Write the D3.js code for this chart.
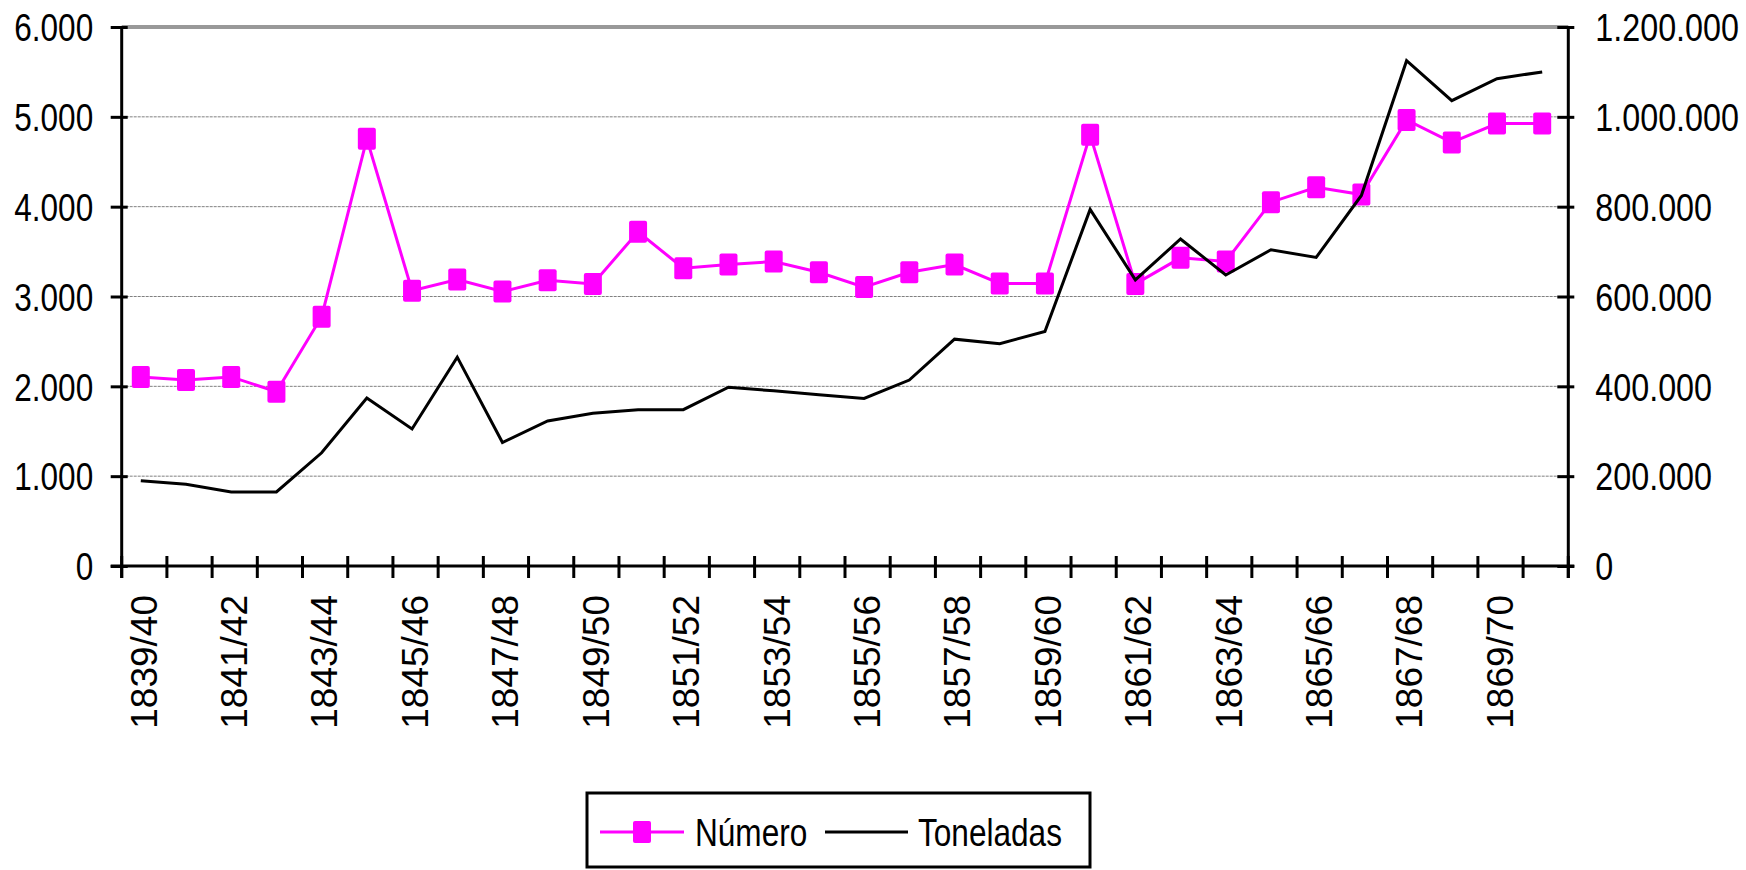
<!DOCTYPE html>
<html>
<head>
<meta charset="utf-8">
<script src="https://cdn.jsdelivr.net/npm/d3@7"></script>
<style>
  body { margin: 0; background: #fff; }
  text { font-family: "Liberation Sans", Arial, sans-serif; fill: #000; }
</style>
</head>
<body>
<svg id="chart" width="1746" height="870"></svg>
<script>
// Ships entering port per season: number of vessels and total tonnage
const categories = ["1839/40","1840/41","1841/42","1842/43","1843/44","1844/45","1845/46","1846/47",
  "1847/48","1848/49","1849/50","1850/51","1851/52","1852/53","1853/54","1854/55",
  "1855/56","1856/57","1857/58","1858/59","1859/60","1860/61","1861/62","1862/63",
  "1863/64","1864/65","1865/66","1866/67","1867/68","1868/69","1869/70","1870/71"];
const numero = [2105, 2070, 2105, 1940, 2775, 4755, 3065, 3190, 3055, 3180, 3140, 3720, 3315, 3355, 3390, 3270,
  3105, 3270, 3355, 3145, 3145, 4800, 3140, 3430, 3390, 4050, 4215, 4135, 4965, 4715, 4925, 4925];
const toneladas = [190000, 182000, 165000, 165000, 252000, 374000, 305000, 465000, 275000, 323000, 340000, 348000,
  348000, 398000, 390000, 381000, 373000, 414000, 505000, 495000, 522000, 794000, 637000, 728000,
  648000, 704000, 687000, 825000, 1125000, 1036000, 1085000, 1100000];
const leftTicks = [0, 1000, 2000, 3000, 4000, 5000, 6000];
const rightTicks = [0, 200000, 400000, 600000, 800000, 1000000, 1200000];
const seriesNames = ["Número", "Toneladas"];

const MAGENTA = "#ff00ff";
const svg = d3.select("#chart");
const plot = { left: 121.7, right: 1568.3, top: 27, bottom: 566 };

const locale = d3.formatLocale({ decimal: ",", thousands: ".", grouping: [3], currency: ["", ""] });
const fmt = locale.format(",d");

const x = d3.scaleBand().domain(categories).range([plot.left, plot.right]);
const yL = d3.scaleLinear().domain([0, 6000]).range([plot.bottom, plot.top]);
const yR = d3.scaleLinear().domain([0, 1200000]).range([plot.bottom, plot.top]);
// point position within each season's band (drawn slightly left of centre)
const px = c => x(c) + x.bandwidth() / 2 - 3.5;

// horizontal gridlines (fine dashed), heavier grey line at the top
svg.append("g").selectAll("line")
  .data(leftTicks.filter(d => d > 0))
  .join("line")
  .attr("x1", plot.left).attr("x2", plot.right)
  .attr("y1", d => yL(d)).attr("y2", d => yL(d))
  .attr("stroke", d => d === 6000 ? "#999" : "#808080")
  .attr("stroke-width", d => d === 6000 ? 4 : 1)
  .attr("stroke-dasharray", d => d === 6000 ? null : "3,1");

// left axis
const gL = svg.append("g").attr("transform", `translate(${plot.left},0)`)
  .call(d3.axisLeft(yL).tickValues(leftTicks).tickSize(11).tickPadding(0).tickFormat(fmt));
gL.select(".domain").remove();
gL.selectAll(".tick line").attr("x1", 6).attr("x2", -11).attr("stroke", "#000").attr("stroke-width", 3);
gL.selectAll(".tick text").remove();
gL.selectAll(".tick").append("g")
  .attr("transform", "translate(-28.5,0) scale(0.83,1)")
  .append("text")
  .attr("text-anchor", "end").attr("dy", "0.36em")
  .style("font-size", "38px")
  .text(d => fmt(d));
svg.append("line").attr("x1", plot.left).attr("x2", plot.left)
  .attr("y1", plot.top - 1).attr("y2", plot.bottom + 12)
  .attr("stroke", "#000").attr("stroke-width", 3);

// right axis
const gR = svg.append("g").attr("transform", `translate(${plot.right},0)`)
  .call(d3.axisRight(yR).tickValues(rightTicks).tickSize(11).tickFormat(fmt));
gR.select(".domain").remove();
gR.selectAll(".tick line").attr("x1", -11).attr("x2", 6).attr("stroke", "#000").attr("stroke-width", 3);
gR.selectAll(".tick text").remove();
gR.selectAll(".tick").append("g")
  .attr("transform", "translate(27,0) scale(0.85,1)")
  .append("text")
  .attr("text-anchor", "start").attr("dy", "0.36em")
  .style("font-size", "38px")
  .text(d => fmt(d));
svg.append("line").attr("x1", plot.right).attr("x2", plot.right)
  .attr("y1", plot.top - 1).attr("y2", plot.bottom + 12)
  .attr("stroke", "#000").attr("stroke-width", 3);

// category axis: ticks on band edges, labels on every other season
svg.append("line").attr("x1", plot.left - 11).attr("x2", plot.right + 6)
  .attr("y1", plot.bottom).attr("y2", plot.bottom)
  .attr("stroke", "#000").attr("stroke-width", 3);
const edges = d3.range(categories.length + 1).map(i => x.range()[0] + i * x.step());
svg.append("g").selectAll("line").data(edges).join("line")
  .attr("x1", d => d).attr("x2", d => d)
  .attr("y1", plot.bottom - 10).attr("y2", plot.bottom + 12)
  .attr("stroke", "#000").attr("stroke-width", 3);
svg.append("g").selectAll("text")
  .data(categories.filter((d, i) => i % 2 === 0))
  .join("text")
  .attr("transform", d => `translate(${x(d) + x.bandwidth() / 2 - 1},${plot.bottom + 29}) rotate(-90)`)
  .attr("text-anchor", "end").attr("dy", "0.36em")
  .style("font-size", "37px")
  .text(d => d);

// Número series with square markers
const lineN = d3.line().x((d, i) => px(categories[i])).y(d => yL(d));
svg.append("path").datum(numero).attr("d", lineN)
  .attr("fill", "none").attr("stroke", MAGENTA).attr("stroke-width", 3).attr("stroke-linejoin", "miter");
svg.append("g").selectAll("rect").data(numero).join("rect")
  .attr("x", (d, i) => px(categories[i]) - 9)
  .attr("y", d => yL(d) - 11)
  .attr("width", 18).attr("height", 22).attr("rx", 2)
  .attr("fill", MAGENTA);

// Toneladas series on the right scale
const lineT = d3.line().x((d, i) => px(categories[i])).y(d => yR(d));
svg.append("path").datum(toneladas).attr("d", lineT)
  .attr("fill", "none").attr("stroke", "#000").attr("stroke-width", 3).attr("stroke-linejoin", "miter");

// legend
const lg = svg.append("g");
lg.append("rect").attr("x", 587).attr("y", 793).attr("width", 503).attr("height", 74)
  .attr("fill", "#fff").attr("stroke", "#000").attr("stroke-width", 3);
lg.append("line").attr("x1", 600).attr("x2", 684).attr("y1", 832).attr("y2", 832)
  .attr("stroke", MAGENTA).attr("stroke-width", 3);
lg.append("rect").attr("x", 633).attr("y", 821).attr("width", 18).attr("height", 22).attr("rx", 2)
  .attr("fill", MAGENTA);
lg.append("g").attr("transform", "translate(695,832) scale(0.81,1)")
  .append("text").attr("dy", "0.36em").style("font-size", "39px").text(seriesNames[0]);
lg.append("line").attr("x1", 825).attr("x2", 908).attr("y1", 832).attr("y2", 832)
  .attr("stroke", "#000").attr("stroke-width", 3);
lg.append("g").attr("transform", "translate(918,832) scale(0.81,1)")
  .append("text").attr("dy", "0.36em").style("font-size", "39px").text(seriesNames[1]);
</script>
</body>
</html>
